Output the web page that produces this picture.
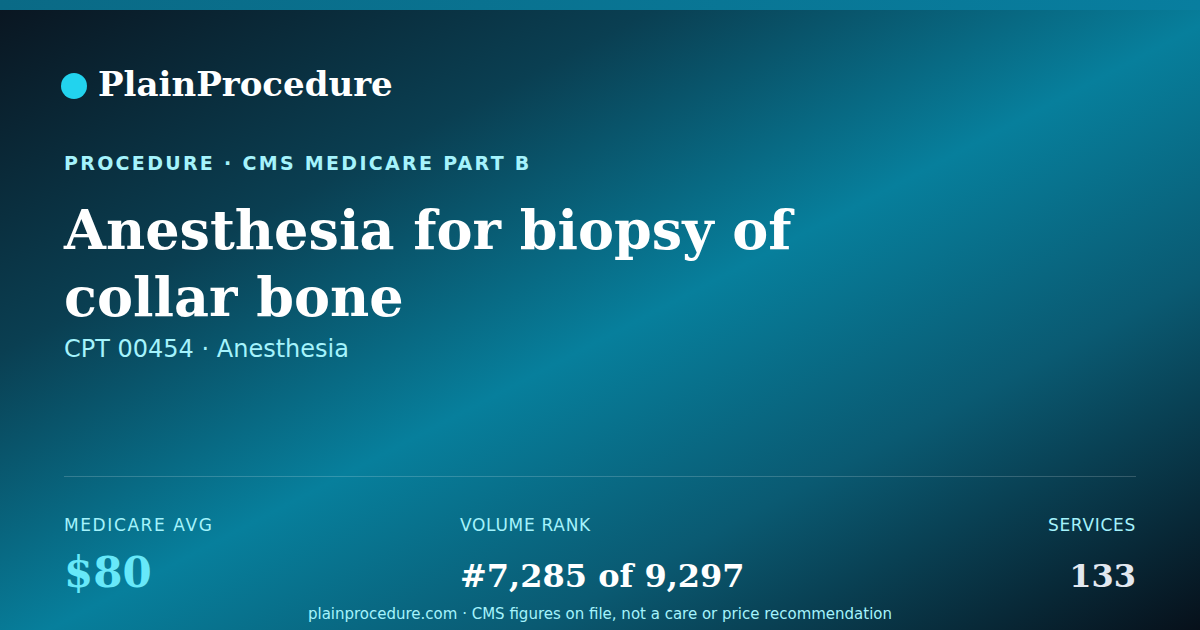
<!DOCTYPE html>
<html>
<head>
<meta charset="utf-8">
<script src="https://cdn.jsdelivr.net/npm/chart.js@4/dist/chart.umd.min.js"></script>
<style>
  html, body { margin: 0; padding: 0; }
  body { width: 1200px; height: 630px; overflow: hidden; }
  .card {
    position: relative; width: 1200px; height: 630px; overflow: hidden;
    background: linear-gradient(to bottom right, #0a1520 0%, #0a3f52 28%, #077f9c 52%, #0a5a72 72%, #07101a 100%);
    font-family: "DejaVu Sans", sans-serif;
  }
  .topbar { position: absolute; left: 0; top: 0; width: 1200px; height: 10px;
    background: linear-gradient(to right, #0a6a86, #087e9f); }
  .brand { position: absolute; left: 61px; top: 64px; display: flex; align-items: center; }
  .dot { width: 26px; height: 26px; border-radius: 50%; background: #22d3ee; margin-right: 11px; margin-top: 4px; }
  .brand span { font-family: "DejaVu Serif", serif; font-weight: bold; font-size: 34px; color: #fff; }
  .eyebrow { position: absolute; left: 64px; top: 152px; font-weight: bold; font-size: 19px;
    letter-spacing: 2.3px; color: #a5f3fc; }
  .title { position: absolute; left: 64px; top: 197px; width: 800px; font-family: "DejaVu Serif", serif;
    font-weight: bold; font-size: 54px; line-height: 67px; color: #fff; margin: 0; }
  .sub { position: absolute; left: 64px; top: 335px; font-size: 24px; color: #a5f3fc; }
  .rule { position: absolute; left: 64px; top: 476px; width: 1072px; height: 1px; background: rgba(255,255,255,0.18); }
  .stat { position: absolute; top: 515px; }
  .stat .lab { font-size: 17px; letter-spacing: 1px; color: #a5f3fc; }
  .foot { position: absolute; left: 0; width: 1200px; top: 605px; text-align: center; font-size: 15px; color: #a5f3fc; }
  .stat .val { font-family: "DejaVu Serif", serif; font-weight: bold; }
</style>
</head>
<body>
<div class="card" id="card">
  <div class="topbar"></div>
  <div class="brand"><div class="dot"></div><span id="brand"></span></div>
  <div class="eyebrow" id="eyebrow"></div>
  <h1 class="title" id="title"></h1>
  <div class="sub" id="sub"></div>
  <div class="rule"></div>
  <div id="stats"></div>
  <div class="foot" id="foot"></div>
</div>
<script>
const brand = ["PlainProcedure"];
const eyebrow = ["PROCEDURE · CMS MEDICARE PART B"];
const title = ["Anesthesia for biopsy of collar bone"];
const subtitle = ["CPT 00454 · Anesthesia"];
const statLabels = ["MEDICARE AVG", "VOLUME RANK", "SERVICES"];
const statValues = ["$80", "#7,285 of 9,297", "133"];
const footer = ["plainprocedure.com · CMS figures on file, not a care or price recommendation"];

document.getElementById('brand').textContent = brand[0];
document.getElementById('eyebrow').textContent = eyebrow[0];
document.getElementById('title').textContent = title[0];
document.getElementById('sub').textContent = subtitle[0];
document.getElementById('foot').textContent = footer[0];

// stat row: left, middle, right-aligned
const statPlace = [
  { left: '64px', align: 'left', size: 42, color: '#67e8f9', gap: 13, ls: 1.6 },
  { left: '460px', align: 'left', size: 32, color: '#ffffff', gap: 22, ls: 0.7 },
  { right: '64px', align: 'right', size: 32, color: '#e2e8f0', gap: 22, ls: 0.7 }
];
const stats = document.getElementById('stats');
statLabels.forEach(function(lab, i) {
  const p = statPlace[i];
  const d = document.createElement('div');
  d.className = 'stat';
  if (p.left) d.style.left = p.left; else d.style.right = p.right;
  d.style.textAlign = p.align;
  const l = document.createElement('div');
  l.className = 'lab'; l.textContent = lab;
  l.style.letterSpacing = p.ls + 'px';
  const v = document.createElement('div');
  v.className = 'val'; v.textContent = statValues[i];
  v.style.fontSize = p.size + 'px'; v.style.color = p.color; v.style.marginTop = p.gap + 'px';
  d.appendChild(l); d.appendChild(v);
  stats.appendChild(d);
});
</script>
</body>
</html>
